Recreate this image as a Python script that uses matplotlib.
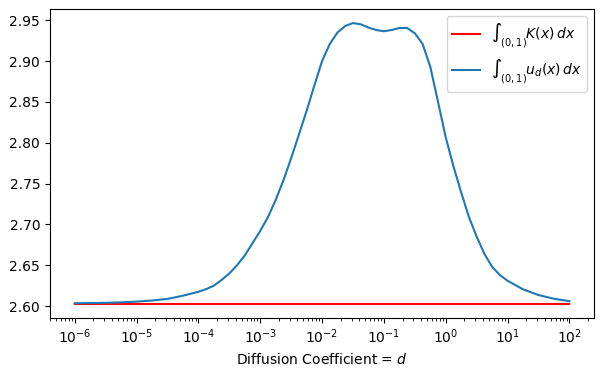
import numpy as np
import matplotlib
matplotlib.use("Agg")
import matplotlib.pyplot as plt

# log10 of diffusion coefficient d, and integral of u_d
log_d = [-6.0, -5.75, -5.5, -5.25, -5.0, -4.75, -4.5, -4.25, -4.0, -3.875,
         -3.75, -3.625, -3.5, -3.375, -3.25, -3.125, -3.0, -2.875, -2.75, -2.625,
         -2.5, -2.375, -2.25, -2.125, -2.0, -1.875, -1.75, -1.625, -1.5, -1.375,
         -1.25, -1.125, -1.0, -0.875, -0.75, -0.625, -0.5, -0.375, -0.25, -0.125,
         0.0, 0.125, 0.25, 0.375, 0.5, 0.625, 0.75, 0.875, 1.0, 1.25,
         1.5, 1.75, 2.0]
int_u = [2.6035, 2.6037, 2.6040, 2.6046, 2.6055, 2.6068, 2.6088, 2.6127, 2.6175, 2.6207,
         2.6250, 2.6320, 2.6400, 2.6500, 2.6620, 2.6770, 2.6920, 2.7090, 2.7300, 2.7540,
         2.7810, 2.8100, 2.8390, 2.8700, 2.9000, 2.9210, 2.9350, 2.9430, 2.9465, 2.9450,
         2.9410, 2.9380, 2.9365, 2.9380, 2.9405, 2.9405, 2.9340, 2.9210, 2.8930, 2.8500,
         2.8065, 2.7710, 2.7390, 2.7090, 2.6850, 2.6640, 2.6480, 2.6380, 2.6310, 2.6205,
         2.6135, 2.6090, 2.6060]
int_K = 2.6025

d = 10.0 ** np.array(log_d)

fig = plt.figure(figsize=(6.02, 3.76), dpi=100)
ax = fig.add_axes([0.083, 0.154, 0.904, 0.822])
ax.plot(d, np.full(len(d), int_K), color="red", label=r"$\int_{(0,1)} K(x)\, dx$")
ax.plot(d, int_u, color="#1f77b4", label=r"$\int_{(0,1)} u_d(x)\, dx$")
ax.set_xscale("log")
ax.set_xlabel(r"Diffusion Coefficient = $d$")
ax.legend(loc="upper right")

fig.savefig("out.png", dpi=100)
